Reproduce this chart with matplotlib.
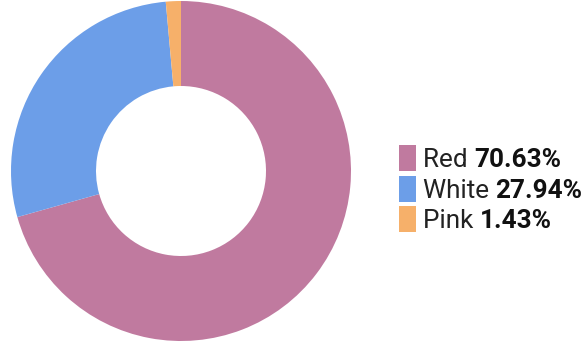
import matplotlib
matplotlib.use("Agg")
import matplotlib.pyplot as plt
from matplotlib.patches import Rectangle

labels = ["Red", "White", "Pink"]
values = [70.63, 27.94, 1.43]
colors = ["#C07A9F", "#6C9EE8", "#F6B06A"]

W, H = 585, 342
fig = plt.figure(figsize=(W / 100, H / 100), dpi=100)
ax = fig.add_axes([11 / W, 1 / H, 340 / W, 340 / H])
ax.pie(values, colors=colors, startangle=90, counterclock=False,
       wedgeprops=dict(width=0.5, linewidth=0), radius=1.0)
ax.set_xlim(-1, 1)
ax.set_ylim(-1, 1)
ax.set_aspect("equal")
ax.axis("off")

fig.canvas.draw()
renderer = fig.canvas.get_renderer()
box_x = 399
box_w = 17
box_h = 26
baselines = [167, 198, 228]
fs = 18.8
for lab, val, col, base in zip(labels, values, colors, baselines):
    top = base - 22
    fig.add_artist(Rectangle((box_x / W, 1 - (top + box_h) / H), box_w / W, box_h / H,
                             transform=fig.transFigure, facecolor=col, edgecolor="none"))
    t1 = fig.text(423 / W, 1 - base / H, lab + " ", fontsize=fs, family="Roboto",
                  color="#222222", va="baseline", ha="left")
    bb = t1.get_window_extent(renderer)
    fig.text(bb.x1 / W, 1 - base / H, f"{val:.2f}%", fontsize=fs, family="Roboto",
             fontweight="bold", color="#111111", va="baseline", ha="left")

fig.savefig("out.png", dpi=100)
